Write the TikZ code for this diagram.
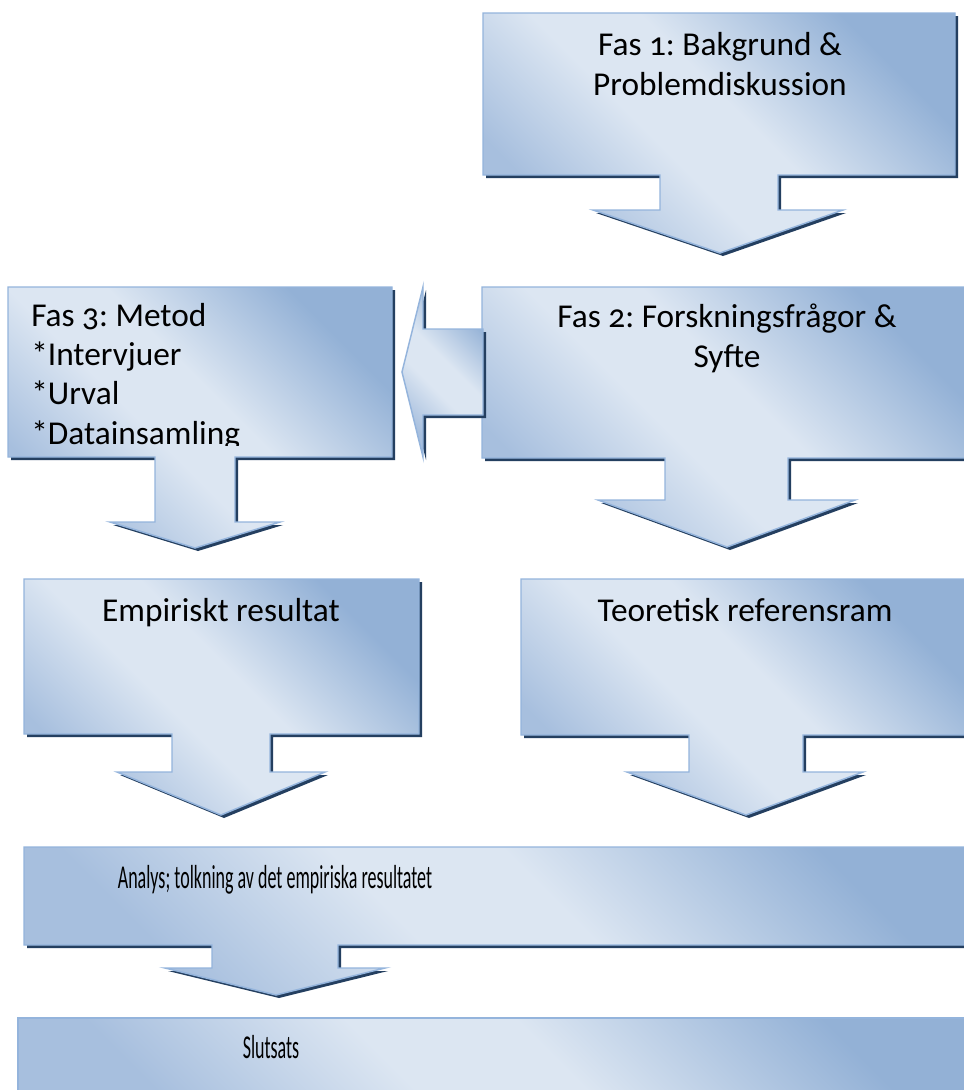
\documentclass[tikz,border=0pt]{standalone}
\usepackage{fontspec}
\setmainfont{Carlito}[Numbers=OldStyle]
\usepackage{graphicx}

\definecolor{boxdark}{HTML}{93B1D6}
\definecolor{boxlow}{HTML}{A7BFDE}
\definecolor{boxlight}{HTML}{DCE6F2}
\definecolor{boxedge}{HTML}{94B4DC}
\definecolor{boxshadow}{HTML}{243F60}

% light band across the middle, dark in the corners
\pgfdeclareverticalshading{calloutgrad}{100bp}{%
  color(0bp)=(boxlow); color(26bp)=(boxlow); color(43bp)=(boxlight);
  color(54bp)=(boxlight); color(74bp)=(boxdark); color(100bp)=(boxdark)}

\tikzset{
  calloutshadow/.style={fill=boxshadow},
  calloutshade/.style={draw=boxedge,line width=1.1pt,line join=miter,
    shading=calloutgrad,shading angle=-45},
  phasetext/.style={inner sep=0pt,font=\fontsize{25}{29.5}\selectfont\frenchspacing,anchor=base}
}

% shadow first, then the shaded shape
\newcommand{\callout}[1]{%
  \fill[calloutshadow,shift={(3,3)}] #1;
  \shade[calloutshade] #1;
}

\begin{document}
\frenchspacing
\begin{tikzpicture}[x=0.75pt,y=-0.75pt]
\clip (0,0) rectangle (964,1090);
\fill[white] (0,0) rectangle (964,1090);

% Fas 1
\callout{(483,13) -- (955,13) -- (955,175) -- (778,175) -- (778,210) -- (843,210)
  -- (720,253) -- (593,210) -- (660,210) -- (660,175) -- (483,175) -- cycle}
\node[phasetext,align=center] (fas1) at (720,95) {Fas 1: Bakgrund \&\\Problemdiskussion};

% Fas 2
\callout{(482,287) -- (975,287) -- (975,458) -- (788,458) -- (788,500) -- (855,500)
  -- (727,547) -- (598,500) -- (665,500) -- (665,458) -- (482,458) -- cycle}
\node[phasetext,align=center] (fas2) at (727,367) {Fas 2: Forskningsfrågor \&\\Syfte};

% Fas 3
\callout{(8,287) -- (392,287) -- (392,457) -- (235,457) -- (235,522) -- (280,522)
  -- (195,548) -- (110,522) -- (155,522) -- (155,457) -- (8,457) -- cycle}
\begin{scope}
\clip (8,287) rectangle (392,445);
\node[phasetext,align=left,anchor=base west] (fas3) at (31,444)
  {Fas 3: Metod\\*Intervjuer\\*Urval\\*Datainsamling};
\end{scope}

% pil från fas 2 till fas 3
\callout{(402,372) -- (423,287) -- (423,329) -- (483,329) -- (483,415) -- (423,415)
  -- (423,457) -- cycle}

% Empiriskt resultat
\callout{(24,579) -- (419,579) -- (419,734) -- (270,734) -- (270,772) -- (325,772)
  -- (221,815) -- (117,772) -- (172,772) -- (172,734) -- (24,734) -- cycle}
\node[phasetext] (empiri) at (221,621) {Empiriskt resultat};

% Teoretisk referensram
\callout{(521,579) -- (972,579) -- (972,735) -- (803,735) -- (803,772) -- (863,772)
  -- (746,815) -- (627,772) -- (689,772) -- (689,735) -- (521,735) -- cycle}
\node[phasetext] (teori) at (745,621) {Teoretisk referensram};

% Analys
\callout{(24,847) -- (1000,847) -- (1000,945) -- (338,945) -- (338,968) -- (385,968)
  -- (276,995) -- (165,968) -- (212,968) -- (212,945) -- (24,945) -- cycle}
\node[phasetext] (analys) at (275,888)
  {\scalebox{0.54}[1]{Analys; tolkning av det empiriska resultatet}};

% Slutsats
\callout{(18,1018) -- (1000,1018) -- (1000,1130) -- (18,1130) -- cycle}
\node[phasetext] (slutsats) at (271,1058) {\scalebox{0.54}[1]{Slutsats}};
\end{tikzpicture}
\end{document}
